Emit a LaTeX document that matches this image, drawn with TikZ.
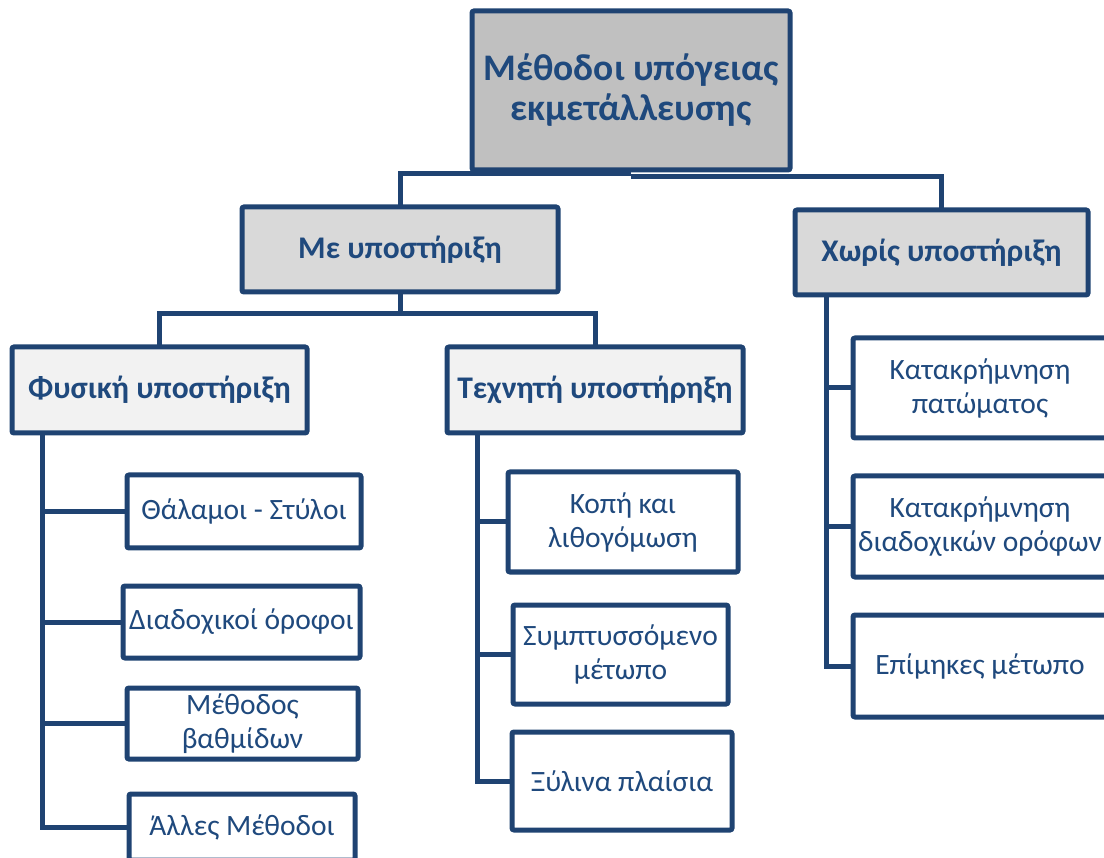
\documentclass[tikz,border=0pt]{standalone}
\usepackage{fontspec}
\setmainfont{Carlito}
\usetikzlibrary{calc}
\definecolor{navy}{HTML}{1F4372}
\definecolor{txt}{HTML}{1F497D}
\definecolor{grayA}{HTML}{C0C0C0}
\definecolor{grayB}{HTML}{D9D9D9}
\definecolor{grayC}{HTML}{F2F2F2}
\begin{document}
\begin{tikzpicture}[x=1pt,y=-1pt,
 base/.style={draw=navy,line width=5pt,rounded corners=2pt,text=txt,align=center,inner sep=0pt,outer sep=0pt},
 topbox/.style={base,fill=grayA,font=\fontsize{37.5}{40}\selectfont\bfseries},
 midbox/.style={base,fill=grayB,font=\fontsize{31.5}{36}\selectfont\bfseries},
 subbox/.style={base,fill=grayC,font=\fontsize{31.5}{36}\selectfont\bfseries},
 leafbox/.style={base,fill=white,font=\fontsize{29.5}{34}\selectfont},
 conn/.style={draw=navy,line width=5pt}]
\useasboundingbox (0,0) rectangle (1104,858);
\clip (0,0) rectangle (1104,858);
% boxes
\node[topbox,minimum width=318,minimum height=159] (top) at (631,90.5) {Μέθοδοι υπόγειας\\εκμετάλλευσης};
\node[midbox,minimum width=316,minimum height=85] (me) at (400,249.5) {Με υποστήριξη};
\node[midbox,minimum width=293,minimum height=85] (xwris) at (941.5,252.5) {Χωρίς υποστήριξη};
\node[subbox,minimum width=295,minimum height=86] (phys) at (159.5,390) {Φυσική υποστήριξη};
\node[subbox,minimum width=296,minimum height=86] (tech) at (595,390) {Τεχνητή υποστήρηξη};
\node[leafbox,minimum width=234,minimum height=73] (thal) at (244,511.5) {Θάλαμοι - Στύλοι};
\node[leafbox,minimum width=237,minimum height=72] (diad) at (241.5,622) {Διαδοχικοί όροφοι};
\node[leafbox,minimum width=231,minimum height=71] (bath) at (242.5,723.5) {Μέθοδος\\βαθμίδων};
\node[leafbox,minimum width=226,minimum height=66] (alles) at (242,827) {Άλλες Μέθοδοι};
\node[leafbox,minimum width=230,minimum height=100] (kopi) at (623,522) {Κοπή και\\λιθογόμωση};
\node[leafbox,minimum width=215,minimum height=99] (symp) at (620.5,654.5) {Συμπτυσσόμενο\\μέτωπο};
\node[leafbox,minimum width=220,minimum height=98] (xyl) at (622,781) {Ξύλινα πλαίσια};
\node[leafbox,minimum width=254,minimum height=100] (kpat) at (980,388) {Κατακρήμνηση\\πατώματος};
\node[leafbox,minimum width=254,minimum height=101] (kdiad) at (980,526.5) {Κατακρήμνηση\\διαδοχικών ορόφων};
\node[leafbox,minimum width=254,minimum height=102] (epim) at (980,666) {Επίμηκες μέτωπο};
% connectors
\draw[conn] (me.north) |- ($(top.south)+(0,4)$);
\draw[conn] (xwris.north) |- ($(top.south)+(0,7)$);
\draw[conn] (me.south) -- ($(me.south)+(0,22)$);
\draw[conn] (phys.north) |- ($(me.south)+(0,22)$) -| (tech.north);
\coordinate (t1) at ($(phys.south west)+(30,0)$);
\draw[conn] (t1) |- (alles.west);
\foreach \n in {thal,diad,bath} \draw[conn] (t1 |- \n.west) -- (\n.west);
\coordinate (t2) at ($(tech.south west)+(30,0)$);
\draw[conn] (t2) |- (xyl.west);
\foreach \n in {kopi,symp} \draw[conn] (t2 |- \n.west) -- (\n.west);
\coordinate (t3) at ($(xwris.south west)+(31,0)$);
\draw[conn] (t3) |- (epim.west);
\foreach \n in {kpat,kdiad} \draw[conn] (t3 |- \n.west) -- (\n.west);
\end{tikzpicture}
\end{document}
